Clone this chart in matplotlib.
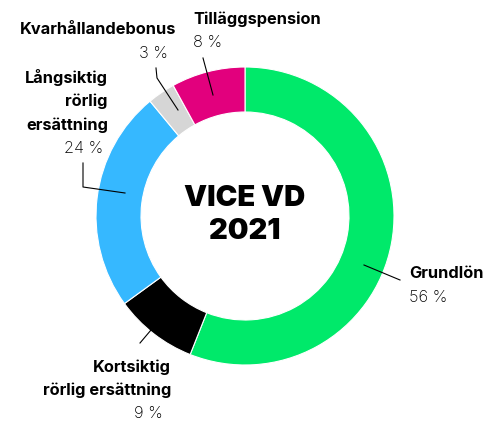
import numpy as np
import matplotlib.pyplot as plt

plt.rcParams['font.family'] = ['Inter', 'DejaVu Sans']

labels = ['Grundlön', 'Kortsiktig\nrörlig ersättning', 'Långsiktig\nrörlig\nersättning',
          'Kvarhållandebonus', 'Tilläggspension']
values = [56, 9, 24, 3, 8]
colors = ['#00E96A', '#000000', '#36B8FF', '#D6D6D6', '#E2007D']
title = 'VICE VD\n2021'

W, H = 488, 422
fig = plt.figure(figsize=(W / 100, H / 100), dpi=100)
ax = fig.add_axes([0, 0, 1, 1])

cx, cy, R = 245, 216, 149
# y axis is inverted below, so start at -90 and go "counterclockwise" in data
# space to get a clockwise donut starting at 12 o'clock on screen
wedges, _ = ax.pie(values, colors=colors, startangle=-90, counterclock=True,
                   center=(cx, cy), radius=R, frame=True,
                   wedgeprops=dict(width=45, edgecolor='white', linewidth=0.8))
ax.set_xlim(0, W)
ax.set_ylim(H, 0)
ax.set_aspect('equal')
ax.axis('off')

ax.text(cx, cy - 1, title, ha='center', va='center', fontsize=21,
        fontweight='black', linespacing=1.25)

# label x, y of first line, alignment, percent x, leader polyline
layout = [
    (409, 274, 'left', 409, [(400, 280), (364, 265)]),
    (171, 367, 'right', 163, [(140, 343), (151, 330)]),
    (108, 78, 'right', 103, [(83, 163), (83, 187), (125, 193)]),
    (176, 30, 'right', 168, [(156, 68), (157, 78), (178, 110)]),
    (193, 19, 'left', 193, [(203, 58), (213, 95)]),
]
step = 23.5

for lab, val, (x, y, ha, px, pts) in zip(labels, values, layout):
    for i, line in enumerate(lab.split('\n')):
        ax.text(x, y + i * step, line, ha=ha, va='center', fontsize=11.8,
                fontweight='bold')
    n = lab.count('\n') + 1
    ax.text(px, y + step * n, f'{val} %', ha=ha, va='center', fontsize=11.8,
            fontweight='light')
    xs, ys = zip(*pts)
    ax.plot(xs, ys, color='black', lw=0.8)

fig.savefig('out.png', dpi=100)
